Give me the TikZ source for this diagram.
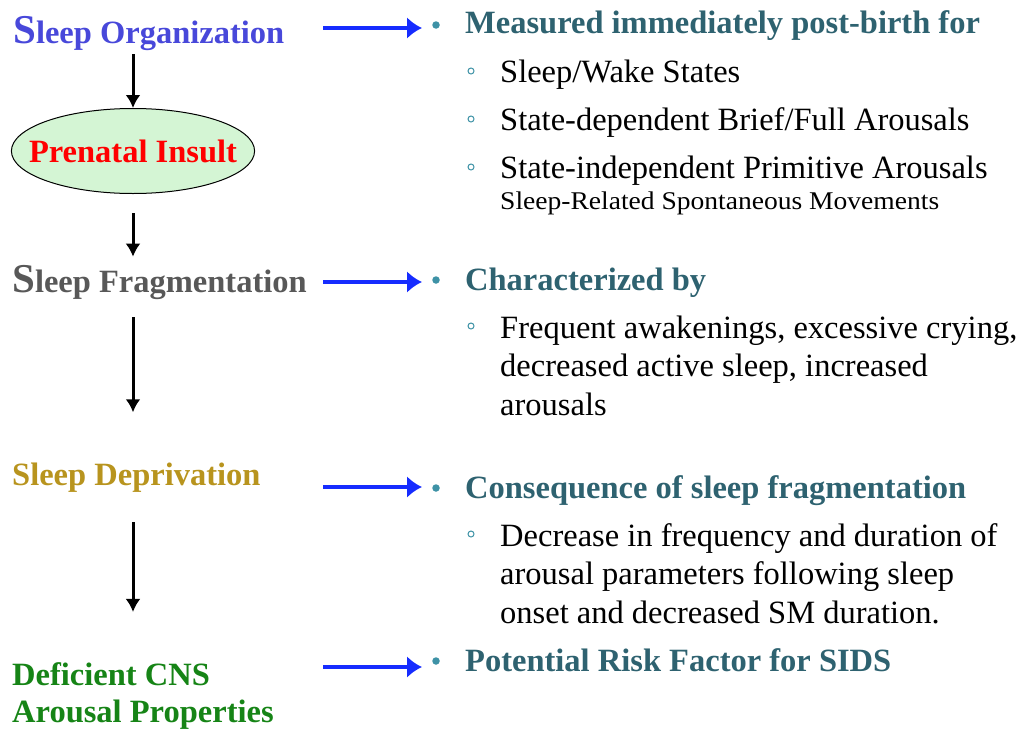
\documentclass[tikz,border=0pt]{standalone}
\usepackage{fontspec}
\setmainfont{Liberation Serif}
\newfontfamily\widefont[FakeStretch=1.08]{Liberation Serif}
\usetikzlibrary{arrows.meta,shapes.geometric}

\definecolor{orgblue}{RGB}{72,72,218}
\definecolor{fraggray}{RGB}{88,88,88}
\definecolor{deprgold}{RGB}{184,148,30}
\definecolor{deficgreen}{RGB}{22,132,22}
\definecolor{insultfill}{RGB}{212,245,212}
\definecolor{headteal}{RGB}{46,98,112}
\definecolor{bulteal}{RGB}{62,146,166}
\definecolor{linkblue}{RGB}{22,44,255}

\tikzset{
    stage/.style={anchor=base west, inner sep=2pt, align=left,
        font=\bfseries\fontsize{32.5}{37}\selectfont},
    heading/.style={anchor=base west, inner sep=0pt, text=headteal,
        font=\bfseries\fontsize{32.5}{38}\selectfont},
    point/.style={anchor=base west, inner sep=0pt, align=left,
        font=\fontsize{32.5}{38.5}\selectfont},
    bul/.style={circle, fill=bulteal, inner sep=0pt, minimum size=7.5pt},
    subbul/.style={circle, draw=bulteal, line width=1pt, inner sep=0pt, minimum size=6pt},
    flow/.style={line width=3pt, -{Latex[length=13pt,width=15pt]}},
    link/.style={line width=3.5pt, draw=linkblue, -{Latex[length=15pt,width=22pt]}}
}

\begin{document}
\begin{tikzpicture}[x=1pt,y=-1pt]
    \useasboundingbox (0,0) rectangle (1021,731);

    % left column: stages
    \node[stage, text=orgblue] (org) at (11,43) {{\fontsize{41}{41}\selectfont S}leep Organization};
    \node[ellipse, draw, line width=1pt, fill=insultfill, inner xsep=-18pt, inner ysep=0pt,
        minimum height=85pt, text=red, font=\bfseries\fontsize{32.5}{38}\selectfont]
        (insult) at (133,151) {Prenatal Insult};
    \node[stage, text=fraggray] (frag) at (10,292) {{\fontsize{41}{41}\selectfont S}leep Fragmentation};
    \node[stage, text=deprgold] (depr) at (10,485) {Sleep Deprivation};
    % base of a two-line node sits on its last line
    \node[stage, text=deficgreen] (defic) at (10,722) {Deficient CNS\\Arousal Properties};

    % downward flow
    \draw[flow, shorten <=2pt] (org.south -| insult) -- (insult.north);
    \draw[flow, shorten <=19pt, shorten >=6pt] (insult.south) -- (insult.south |- frag.north);
    \draw[flow, shorten <=16pt, shorten >=48pt] (frag.south -| insult) -- (depr.north -| insult);
    \draw[flow, shorten <=28pt, shorten >=48pt] (depr.south -| insult) -- (defic.north -| insult);

    % bullets on the right
    \node[bul] (b1) at (436,25) {};
    \node[bul] (b2) at (436,280) {};
    \node[bul] (b3) at (436,488) {};
    \node[bul] (b4) at (436,661) {};

    % blue links
    \coordinate (s1) at (323,28);
    \coordinate (s2) at (323,282);
    \coordinate (s3) at (323,487);
    \coordinate (s4) at (323,667);
    \draw[link, shorten >=14pt] (s1) -- (s1 -| b1);
    \draw[link, shorten >=14pt] (s2) -- (s2 -| b2);
    \draw[link, shorten >=14pt] (s3) -- (s3 -| b3);
    \draw[link, shorten >=14pt] (s4) -- (s4 -| b4);

    % measured post-birth
    \node[heading] (h1) at (465,33) {Measured immediately post-birth for};
    \node[subbul] (c1) at (471,71) {};
    \node[point] (p1) at (500,82) {Sleep/Wake States};
    \node[subbul] (c2) at (471,119) {};
    \node[point] (p2) at (500,130) {State-dependent Brief/Full Arousals};
    \node[subbul] (c3) at (471,167) {};
    \node[point] (p3) at (500,178) {State-independent Primitive Arousals};
    \node[point, font=\widefont\fontsize{25.5}{28}\selectfont] (p4) at (500,209) {Sleep-Related Spontaneous Movements};

    % characterized by
    \node[heading] (h2) at (465,290) {Characterized by};
    \node[subbul] (c4) at (471,326) {};
    \node[point] (p5) at (500,415) {Frequent awakenings, excessive crying,\\decreased active sleep, increased\\arousals};

    % consequence
    \node[heading] (h3) at (465,498) {Consequence of sleep fragmentation};
    \node[subbul] (c5) at (471,534) {};
    \node[point] (p6) at (500,623) {Decrease in frequency and duration of\\arousal parameters following sleep\\onset and decreased SM duration.};

    % risk
    \node[heading] (h4) at (465,671) {Potential Risk Factor for SIDS};
\end{tikzpicture}
\end{document}
